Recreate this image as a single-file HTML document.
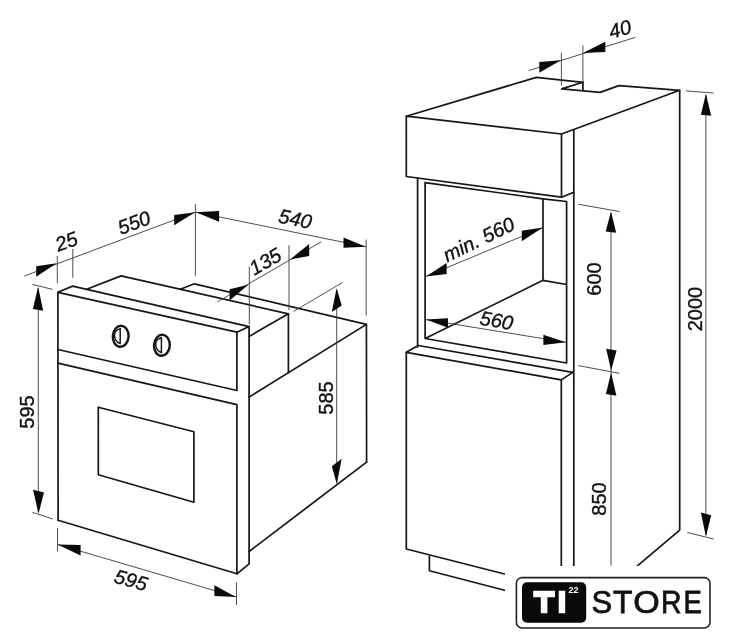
<!DOCTYPE html>
<html><head><meta charset="utf-8"><title>Oven dimensions</title>
<style>
html,body{margin:0;padding:0;background:#fff;}
body{width:734px;height:640px;overflow:hidden;font-family:"Liberation Sans",sans-serif;}
svg{display:block;will-change:transform;opacity:0.999;}
</style></head><body>
<svg width="734" height="640" viewBox="0 0 734 640">
<rect width="734" height="640" fill="#ffffff"/>
<path d="M58.1,520.3 L57.9,292.3 L236.9,332.2" fill="none" stroke="#161616" stroke-width="1.7" stroke-linejoin="round" stroke-linecap="round"/>
<path d="M57.9,292.3 L72.6,286.1 L249.1,326.6 L236.9,332.2" fill="none" stroke="#161616" stroke-width="1.7" stroke-linejoin="round" stroke-linecap="round"/>
<path d="M249.1,326.6 L249.1,563.8 L236.9,573.8 L58.1,520.3" fill="none" stroke="#161616" stroke-width="1.7" stroke-linejoin="round" stroke-linecap="round"/>
<path d="M236.9,332.2 L236.9,390.5 L57.9,349.5" fill="none" stroke="#161616" stroke-width="1.7" stroke-linejoin="round" stroke-linecap="round"/>
<path d="M57.9,363.2 L236.9,404.6 L236.9,573.8" fill="none" stroke="#161616" stroke-width="1.7" stroke-linejoin="round" stroke-linecap="round"/>
<path d="M98.3,407.2 L193.9,431.8 L193.9,502.3 L98.3,474.8 Z" fill="none" stroke="#161616" stroke-width="1.7" stroke-linejoin="round" stroke-linecap="round"/>
<path d="M86.7,289.3 L121.1,275.9 L288.4,313.8 L288.4,372.5" fill="none" stroke="#161616" stroke-width="1.7" stroke-linejoin="round" stroke-linecap="round"/>
<path d="M288.4,313.8 L249.1,336.4" fill="none" stroke="#161616" stroke-width="1.7" stroke-linejoin="round" stroke-linecap="round"/>
<path d="M180.3,289.3 L194.4,283.8 L366.4,324.4 L366.6,462.1" fill="none" stroke="#161616" stroke-width="1.7" stroke-linejoin="round" stroke-linecap="round"/>
<path d="M249.1,397.1 L366.4,324.4" fill="none" stroke="#161616" stroke-width="1.7" stroke-linejoin="round" stroke-linecap="round"/>
<path d="M249.1,551.5 L366.6,462.1" fill="none" stroke="#161616" stroke-width="1.7" stroke-linejoin="round" stroke-linecap="round"/>
<ellipse cx="120.7" cy="336.3" rx="7.9" ry="10.5" fill="none" stroke="#161616" stroke-width="2.4" transform="rotate(4 120.7 336.3)"/>
<path d="M120.2,328.7 L120.2,343.5 C116.2,342.3 114.5,338.3 114.5,335.3 C114.5,332.3 116.7,329.3 120.2,328.7 Z" fill="none" stroke="#161616" stroke-width="1.5"/>
<ellipse cx="161.9" cy="345.3" rx="7.9" ry="10.5" fill="none" stroke="#161616" stroke-width="2.4" transform="rotate(4 161.9 345.3)"/>
<path d="M161.4,337.7 L161.4,352.5 C157.4,351.3 155.7,347.3 155.7,344.3 C155.7,341.3 157.9,338.3 161.4,337.7 Z" fill="none" stroke="#161616" stroke-width="1.5"/>
<path d="M24.4,276.0 L195.3,212.2" fill="none" stroke="#3a3a3a" stroke-width="0.9"/>
<path d="M57.3,256.0 L57.3,283.4" fill="none" stroke="#3a3a3a" stroke-width="0.9"/>
<path d="M72.8,249.0 L72.8,277.9" fill="none" stroke="#3a3a3a" stroke-width="0.9"/>
<path d="M195.4,204.0 L195.4,275.8" fill="none" stroke="#3a3a3a" stroke-width="0.9"/>
<path d="M56.7,263.3 L36.2,266.2 L36.2,276.8 Z" fill="#0a0a0a"/>
<path d="M195.3,212.2 L174.2,214.9 L174.2,225.2 Z" fill="#0a0a0a"/>
<path d="M195.9,212.2 L365.9,246.8" fill="none" stroke="#3a3a3a" stroke-width="0.9"/>
<path d="M195.9,212.2 L219.1,211.1 L219.1,221.7 Z" fill="#0a0a0a"/>
<path d="M365.9,246.8 L343.5,237.4 L343.5,247.7 Z" fill="#0a0a0a"/>
<path d="M366.2,239.6 L366.2,315.5" fill="none" stroke="#3a3a3a" stroke-width="0.9"/>
<path d="M217.4,301.9 L321.2,241.8" fill="none" stroke="#3a3a3a" stroke-width="0.9"/>
<path d="M249.3,266.6 L249.3,324.0" fill="none" stroke="#3a3a3a" stroke-width="0.9"/>
<path d="M289.0,245.3 L289.0,310.2" fill="none" stroke="#3a3a3a" stroke-width="0.9"/>
<path d="M248.4,284.8 L229.6,289.2 L229.6,300.6 Z" fill="#0a0a0a"/>
<path d="M290.1,259.4 L309.2,243.9 L309.2,256.0 Z" fill="#0a0a0a"/>
<path d="M293.5,311.5 L342.6,282.4" fill="none" stroke="#3a3a3a" stroke-width="0.9"/>
<path d="M336.7,290.0 L336.7,483.0" fill="none" stroke="#3a3a3a" stroke-width="0.9"/>
<path d="M336.6,288.3 L331.8,311.9 L341.8,305.5 Z" fill="#0a0a0a"/>
<path d="M336.8,484.1 L331.8,466.2 L341.7,458.7 Z" fill="#0a0a0a"/>
<path d="M38.3,288.0 L38.3,512.0" fill="none" stroke="#3a3a3a" stroke-width="0.9"/>
<path d="M32.6,284.5 L52.6,289.4" fill="none" stroke="#3a3a3a" stroke-width="0.9"/>
<path d="M32.5,512.3 L52.7,519.0" fill="none" stroke="#3a3a3a" stroke-width="0.9"/>
<path d="M38.1,286.7 L32.9,309.1 L43.2,310.7 Z" fill="#0a0a0a"/>
<path d="M38.5,513.8 L33.1,489.8 L44.0,492.5 Z" fill="#0a0a0a"/>
<path d="M57.5,544.4 L236.0,596.9" fill="none" stroke="#3a3a3a" stroke-width="0.9"/>
<path d="M57.5,528.1 L57.5,551.5" fill="none" stroke="#3a3a3a" stroke-width="0.9"/>
<path d="M236.5,582.5 L236.5,605.0" fill="none" stroke="#3a3a3a" stroke-width="0.9"/>
<path d="M57.5,544.4 L80.6,545.0 L80.6,555.6 Z" fill="#0a0a0a"/>
<path d="M236.0,596.9 L214.4,585.3 L214.4,596.0 Z" fill="#0a0a0a"/>
<text x="0" y="0" transform="translate(66.4,241.4) rotate(-20)" text-anchor="middle" dominant-baseline="central" font-family="Liberation Sans, sans-serif" font-size="20" font-style="italic" font-weight="normal" letter-spacing="0" fill="#111" stroke="#111" stroke-width="0.35">25</text>
<text x="0" y="0" transform="translate(134.0,222.6) rotate(-20)" text-anchor="middle" dominant-baseline="central" font-family="Liberation Sans, sans-serif" font-size="20" font-style="italic" font-weight="normal" letter-spacing="0" fill="#111" stroke="#111" stroke-width="0.35">550</text>
<text x="0" y="0" transform="translate(295.3,218.8) rotate(12)" text-anchor="middle" dominant-baseline="central" font-family="Liberation Sans, sans-serif" font-size="20" font-style="italic" font-weight="normal" letter-spacing="0" fill="#111" stroke="#111" stroke-width="0.35">540</text>
<text x="0" y="0" transform="translate(265.2,261.4) rotate(-30)" text-anchor="middle" dominant-baseline="central" font-family="Liberation Sans, sans-serif" font-size="20" font-style="italic" font-weight="normal" letter-spacing="0" fill="#111" stroke="#111" stroke-width="0.35">135</text>
<text x="0" y="0" transform="translate(325.9,398.0) rotate(-90)" text-anchor="middle" dominant-baseline="central" font-family="Liberation Sans, sans-serif" font-size="20" font-style="normal" font-weight="normal" letter-spacing="0" fill="#111" stroke="#111" stroke-width="0.35">585</text>
<text x="0" y="0" transform="translate(27.0,412.0) rotate(-90)" text-anchor="middle" dominant-baseline="central" font-family="Liberation Sans, sans-serif" font-size="20" font-style="normal" font-weight="normal" letter-spacing="0" fill="#111" stroke="#111" stroke-width="0.35">595</text>
<text x="0" y="0" transform="translate(131.0,580.0) rotate(16)" text-anchor="middle" dominant-baseline="central" font-family="Liberation Sans, sans-serif" font-size="20" font-style="italic" font-weight="normal" letter-spacing="0" fill="#111" stroke="#111" stroke-width="0.35">595</text>
<path d="M406.3,176.5 L406.3,116.2 L561.5,134.0 L561.5,197.2 L406.3,176.5" fill="none" stroke="#161616" stroke-width="1.7" stroke-linejoin="round" stroke-linecap="round"/>
<path d="M406.3,116.2 L536.3,77.4 L582.9,82.3 L582.9,90.5" fill="none" stroke="#161616" stroke-width="1.7" stroke-linejoin="round" stroke-linecap="round"/>
<path d="M582.9,82.3 L561.7,88.9 L600.1,92.4 L618.9,85.6 L679.7,90.3 L679.7,530.1 L637.7,565.7" fill="none" stroke="#161616" stroke-width="1.7" stroke-linejoin="round" stroke-linecap="round"/>
<path d="M561.5,134.0 L679.7,90.3" fill="none" stroke="#161616" stroke-width="1.7" stroke-linejoin="round" stroke-linecap="round"/>
<path d="M561.5,197.2 L573.8,192.3" fill="none" stroke="#161616" stroke-width="1.7" stroke-linejoin="round" stroke-linecap="round"/>
<path d="M573.8,130.2 L573.8,565.7" fill="none" stroke="#161616" stroke-width="1.7" stroke-linejoin="round" stroke-linecap="round"/>
<path d="M417.6,178.2 L417.6,347.0" fill="none" stroke="#161616" stroke-width="1.7" stroke-linejoin="round" stroke-linecap="round"/>
<path d="M425.1,338.5 L425.1,182.6 L543.0,198.8 L566.6,201.5 L566.6,363.0 L425.1,338.5 L543.0,280.3 L566.6,284.5" fill="none" stroke="#161616" stroke-width="1.7" stroke-linejoin="round" stroke-linecap="round"/>
<path d="M543.0,198.8 L543.0,280.3" fill="none" stroke="#161616" stroke-width="1.7" stroke-linejoin="round" stroke-linecap="round"/>
<path d="M418.2,345.5 L572.8,372.4" fill="none" stroke="#161616" stroke-width="1.7" stroke-linejoin="round" stroke-linecap="round"/>
<path d="M418.2,345.5 L406.3,352.3 L561.3,379.9 L572.8,372.4" fill="none" stroke="#161616" stroke-width="1.7" stroke-linejoin="round" stroke-linecap="round"/>
<path d="M504.6,574.0 L406.3,549.0 L406.3,352.3" fill="none" stroke="#161616" stroke-width="1.7" stroke-linejoin="round" stroke-linecap="round"/>
<path d="M561.3,379.9 L561.3,565.7" fill="none" stroke="#161616" stroke-width="1.7" stroke-linejoin="round" stroke-linecap="round"/>
<path d="M429.4,556.0 L429.4,570.8 L504.6,590.3" fill="none" stroke="#161616" stroke-width="1.7" stroke-linejoin="round" stroke-linecap="round"/>
<path d="M529.0,70.5 L635.3,37.4" fill="none" stroke="#3a3a3a" stroke-width="0.9"/>
<path d="M561.4,52.9 L561.4,85.6" fill="none" stroke="#3a3a3a" stroke-width="0.9"/>
<path d="M582.9,45.5 L582.9,82.0" fill="none" stroke="#3a3a3a" stroke-width="0.9"/>
<path d="M560.9,60.2 L539.3,61.9 L539.3,72.8 Z" fill="#0a0a0a"/>
<path d="M582.9,52.9 L605.3,41.8 L605.3,52.1 Z" fill="#0a0a0a"/>
<text x="0" y="0" transform="translate(620.0,29.0) rotate(-15)" text-anchor="middle" dominant-baseline="central" font-family="Liberation Sans, sans-serif" font-size="20" font-style="italic" font-weight="normal" letter-spacing="0" fill="#111" stroke="#111" stroke-width="0.35">40</text>
<path d="M426.0,276.4 L542.9,227.6" fill="none" stroke="#3a3a3a" stroke-width="0.9"/>
<path d="M426.0,276.4 L446.6,262.9 L446.6,273.9 Z" fill="#0a0a0a"/>
<path d="M542.9,227.6 L521.8,230.8 L521.8,241.2 Z" fill="#0a0a0a"/>
<text x="0" y="0" transform="translate(478.6,239.3) rotate(-26)" text-anchor="middle" dominant-baseline="central" font-family="Liberation Sans, sans-serif" font-size="20" font-style="italic" font-weight="normal" letter-spacing="0" fill="#111" stroke="#111" stroke-width="0.35">min. 560</text>
<path d="M426.0,319.6 L565.8,342.3" fill="none" stroke="#3a3a3a" stroke-width="0.9"/>
<path d="M426.0,319.6 L448.0,318.2 L448.0,327.8 Z" fill="#0a0a0a"/>
<path d="M565.8,342.3 L543.4,334.8 L543.4,345.1 Z" fill="#0a0a0a"/>
<text x="0" y="0" transform="translate(496.6,320.4) rotate(10)" text-anchor="middle" dominant-baseline="central" font-family="Liberation Sans, sans-serif" font-size="20" font-style="italic" font-weight="normal" letter-spacing="0" fill="#111" stroke="#111" stroke-width="0.35">560</text>
<path d="M611.0,213.0 L611.0,565.7" fill="none" stroke="#3a3a3a" stroke-width="0.9"/>
<path d="M578.3,204.2 L619.7,211.6" fill="none" stroke="#3a3a3a" stroke-width="0.9"/>
<path d="M578.3,365.6 L619.3,373.3" fill="none" stroke="#3a3a3a" stroke-width="0.9"/>
<path d="M611.0,211.6 L605.7,231.4 L616.2,232.7 Z" fill="#0a0a0a"/>
<path d="M611.1,370.6 L606.2,348.7 L616.6,350.5 Z" fill="#0a0a0a"/>
<path d="M611.1,372.7 L605.9,394.1 L616.4,395.7 Z" fill="#0a0a0a"/>
<path d="M705.9,95.0 L705.9,535.0" fill="none" stroke="#3a3a3a" stroke-width="0.9"/>
<path d="M685.9,90.9 L713.6,93.0" fill="none" stroke="#3a3a3a" stroke-width="0.9"/>
<path d="M687.3,532.5 L713.6,539.0" fill="none" stroke="#3a3a3a" stroke-width="0.9"/>
<path d="M705.9,93.8 L700.9,114.8 L711.2,115.8 Z" fill="#0a0a0a"/>
<path d="M705.9,536.7 L700.9,512.6 L711.2,515.2 Z" fill="#0a0a0a"/>
<text x="0" y="0" transform="translate(593.5,279.0) rotate(-90)" text-anchor="middle" dominant-baseline="central" font-family="Liberation Sans, sans-serif" font-size="20" font-style="normal" font-weight="normal" letter-spacing="0" fill="#111" stroke="#111" stroke-width="0.35">600</text>
<text x="0" y="0" transform="translate(598.9,499.0) rotate(-90)" text-anchor="middle" dominant-baseline="central" font-family="Liberation Sans, sans-serif" font-size="20" font-style="normal" font-weight="normal" letter-spacing="0" fill="#111" stroke="#111" stroke-width="0.35">850</text>
<text x="0" y="0" transform="translate(694.9,309.0) rotate(-90)" text-anchor="middle" dominant-baseline="central" font-family="Liberation Sans, sans-serif" font-size="20" font-style="normal" font-weight="normal" letter-spacing="0" fill="#111" stroke="#111" stroke-width="0.35">2000</text>
<rect x="505" y="566" width="229" height="74" fill="#fff"/>
<rect x="516.4" y="577.6" width="193.6" height="50.4" rx="5.8" ry="5.8" fill="#fff" stroke="#222" stroke-width="1.6"/>
<rect x="522.0" y="582.2" width="64.2" height="40.5" rx="5" ry="5" fill="#0a0a0a"/>
<path d="M533.2,590.8 h21.8 v6.4 h-7.6 v16.1 h-6.6 v-16.1 h-7.6 Z M558.7,590.8 h6.5 v22.5 h-6.5 Z" fill="#fff"/>
<text x="573.5" y="593.2" text-anchor="middle" font-family="Liberation Sans, sans-serif" font-size="9.2" font-weight="bold" fill="#fff">22</text>
<text transform="translate(591.5,613.1) scale(1.0,1)" font-family="Liberation Sans, sans-serif" font-size="30.9" fill="#111" stroke="#111" stroke-width="0.75">S</text>
<text transform="translate(612.9,613.1) scale(1.03,1)" font-family="Liberation Sans, sans-serif" font-size="30.9" fill="#111" stroke="#111" stroke-width="0.75">T</text>
<text transform="translate(633.2,613.1) scale(1.1,1)" font-family="Liberation Sans, sans-serif" font-size="30.9" fill="#111" stroke="#111" stroke-width="0.75">O</text>
<text transform="translate(660.9,613.1) scale(0.92,1)" font-family="Liberation Sans, sans-serif" font-size="30.9" fill="#111" stroke="#111" stroke-width="0.75">R</text>
<text transform="translate(683.5,613.1) scale(0.89,1)" font-family="Liberation Sans, sans-serif" font-size="30.9" fill="#111" stroke="#111" stroke-width="0.75">E</text>
</svg>
</body></html>
